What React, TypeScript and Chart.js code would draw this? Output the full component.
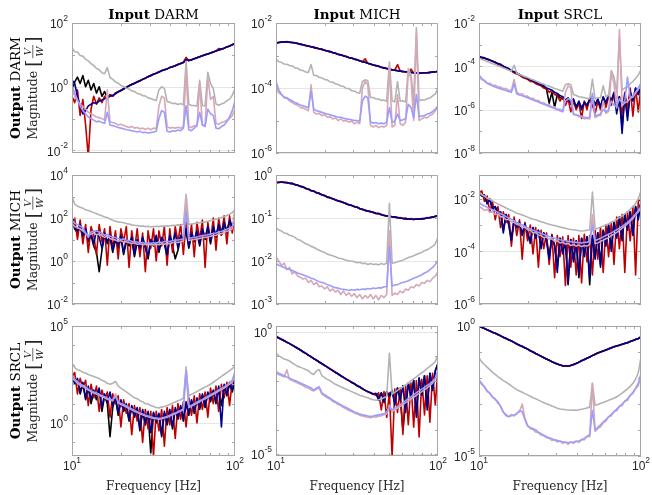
import React, { useEffect, useRef } from "react";
import { Chart, registerables } from "chart.js";

Chart.register(...registerables);

const CANVAS_W = 652;
const CANVAS_H = 495;

// Frequency grid (Hz), shared by all panels
const freqHz = [
  10.0, 10.39, 10.8, 11.22, 11.66, 12.12, 12.59, 13.09, 13.59, 14.13,
  14.68, 15.26, 15.85, 16.47, 17.11, 17.78, 18.48, 19.2, 19.95, 20.73,
  21.54, 22.39, 23.26, 24.17, 25.12, 26.1, 27.12, 28.18, 29.29, 30.43,
  31.62, 32.86, 34.15, 35.48, 36.87, 38.31, 39.81, 41.37, 42.99, 44.67,
  46.42, 48.23, 50.12, 52.08, 54.12, 56.23, 58.43, 60.72, 63.1, 65.56,
  68.13, 70.79, 73.56, 76.44, 79.43, 82.54, 85.77, 89.13, 92.62, 96.24,
  100.0,
];

// All magnitudes below are log10(|H|).
// ---------- Output DARM / Input DARM ----------
const dd_black = [
  -0.1, 0.15, 0.3, 0.1, 0.35, 0.0, 0.2, -0.1, 0.1, -0.2,
  0.0, -0.3, -0.15, -0.35, -0.25, -0.3, -0.2, -0.16, -0.12, -0.07,
  -0.02, 0.03, 0.07, 0.11, 0.15, 0.19, 0.23, 0.27, 0.31, 0.35,
  0.39, 0.42, 0.46, 0.5, 0.53, 0.56, 0.6, 0.63, 0.66, 0.7,
  0.73, 0.76, 0.85, 0.82, 0.85, 0.88, 0.91, 0.94, 0.97, 1.0,
  1.03, 1.06, 1.09, 1.12, 1.15, 1.18, 1.21, 1.25, 1.28, 1.32,
  1.36,
];
const dd_red = [
  -0.3, -0.5, -0.1, -0.9, -0.4, -1.2, -2.2, -0.7, -0.3, -0.55,
  -0.35, -0.5, -0.3, -0.4, -0.25, -0.3, -0.2, -0.15, -0.12, -0.05,
  -0.02, 0.02, 0.08, 0.1, 0.16, 0.18, 0.24, 0.26, 0.32, 0.34,
  0.4, 0.42, 0.46, 0.51, 0.53, 0.56, 0.6, 0.63, 0.66, 0.7,
  0.73, 0.77, 0.92, 0.82, 0.85, 0.88, 0.91, 0.94, 0.97, 1.0,
  1.03, 1.06, 1.09, 1.12, 1.2, 1.18, 1.21, 1.25, 1.28, 1.32,
  1.36,
];
const dd_blue = [
  0.2, 0.1, -0.3, -0.6, -0.85, -0.75, -0.6, -0.55, -0.5, -0.52,
  -0.45, -0.42, -0.38, -0.35, -0.3, -0.27, -0.22, -0.17, -0.12, -0.07,
  -0.02, 0.03, 0.07, 0.11, 0.15, 0.19, 0.23, 0.27, 0.31, 0.35,
  0.39, 0.42, 0.46, 0.5, 0.53, 0.56, 0.6, 0.63, 0.66, 0.7,
  0.73, 0.76, 0.85, 0.82, 0.85, 0.88, 0.91, 0.94, 0.97, 1.0,
  1.03, 1.06, 1.09, 1.12, 1.15, 1.18, 1.21, 1.25, 1.28, 1.32,
  1.36,
];
const dd_gray = [
  1.22, 1.1, 1.09, 0.98, 0.96, 0.86, 0.81, 0.72, 0.67, 0.57,
  0.53, 0.44, 0.41, 0.6, 0.29, 0.23, 0.15, 0.11, 0.04, 0.01,
  -0.05, -0.07, -0.13, -0.15, -0.21, -0.23, -0.28, -0.29, -0.35, -0.37,
  -0.41, -0.43, -0.1, 0.0, -0.05, -0.46, -0.49, -0.53, -0.52, -0.56,
  -0.53, -0.57, 0.8, -0.55, -0.59, -0.59, -0.61, 0.2, -0.59, -0.6,
  0.45, 0.1, -0.05, -0.54, -0.58, -0.54, -0.51, -0.44, -0.39, -0.27,
  -0.05,
];
const dd_pink = [
  -0.1, -0.3, -0.45, -0.55, -0.62, -0.7, -0.8, -0.85, -0.9, -0.95,
  -0.97, -1.0, -1.05, -0.1, -1.1, -1.12, -1.15, -1.2, -1.18, -1.22,
  -1.25, -1.28, -1.25, -1.3, -1.28, -1.32, -1.3, -1.34, -1.3, -1.35,
  -1.3, -1.32, -0.6, -0.3, -0.35, -1.25, -1.3, -1.28, -1.3, -1.27,
  -1.3, -1.25, 0.5, -1.25, -1.28, -1.22, -1.25, 0.1, -1.2, -1.2,
  0.3, -0.4, -0.3, -1.15, -1.18, -1.12, -1.1, -1.05, -1.0, -0.9,
  -0.72,
];
const dd_light = [
  0.05, -0.2, -0.4, -0.6, -0.75, -0.85, -0.95, -1.0, -1.05, -1.1,
  -1.08, -1.12, -1.15, -0.8, -1.2, -1.22, -1.25, -1.28, -1.3, -1.32,
  -1.35, -1.36, -1.38, -1.4, -1.42, -1.4, -1.44, -1.43, -1.45, -1.44,
  -1.42, -1.4, -1.0, -0.75, -0.8, -1.4, -1.42, -1.38, -1.4, -1.36,
  -1.38, -1.3, -0.6, -1.35, -1.38, -1.3, -1.2, -0.8, -1.2, -1.25,
  -0.7, -0.85, -0.9, -1.3, -1.32, -1.25, -1.2, -1.1, -0.95, -0.75,
  -0.45,
];

// ---------- Output DARM / Input MICH ----------
const dm_black = [
  -2.61, -2.6, -2.59, -2.58, -2.58, -2.59, -2.6, -2.61, -2.63, -2.65,
  -2.67, -2.69, -2.71, -2.73, -2.75, -2.77, -2.79, -2.81, -2.84, -2.86,
  -2.88, -2.91, -2.93, -2.96, -2.98, -3.01, -3.03, -3.06, -3.08, -3.11,
  -3.13, -3.16, -3.19, -3.21, -3.24, -3.26, -3.29, -3.31, -3.33, -3.36,
  -3.38, -3.4, -3.42, -3.44, -3.45, -3.47, -3.48, -3.49, -3.5, -3.51,
  -3.52, -3.53, -3.53, -3.54, -3.54, -3.53, -3.53, -3.52, -3.51, -3.5,
  -3.49,
];
const dm_red = [
  -2.63, -2.6, -2.58, -2.59, -2.57, -2.6, -2.6, -2.62, -2.63, -2.66,
  -2.67, -2.7, -2.71, -2.74, -2.75, -2.78, -2.79, -2.82, -2.84, -2.87,
  -2.88, -2.92, -2.93, -2.97, -2.98, -3.02, -3.03, -3.07, -3.08, -3.12,
  -3.13, -3.17, -3.19, -3.1, -3.24, -3.27, -3.29, -3.32, -3.33, -3.37,
  -3.38, -3.41, -3.42, -3.45, -3.45, -3.28, -3.48, -3.5, -3.5, -3.52,
  -3.42, -3.54, -3.53, -3.55, -3.54, -3.54, -3.53, -3.53, -3.51, -3.51,
  -3.48,
];
const dm_blue = [
  -2.62, -2.6, -2.59, -2.58, -2.58, -2.59, -2.6, -2.61, -2.63, -2.65,
  -2.67, -2.69, -2.71, -2.73, -2.75, -2.77, -2.79, -2.81, -2.84, -2.86,
  -2.88, -2.91, -2.93, -2.96, -2.98, -3.01, -3.03, -3.06, -3.08, -3.11,
  -3.13, -3.16, -3.19, -3.21, -3.24, -3.26, -3.29, -3.31, -3.33, -3.36,
  -3.38, -3.4, -3.42, -3.44, -3.45, -3.47, -3.48, -3.49, -3.5, -3.51,
  -3.52, -3.53, -3.53, -3.54, -3.54, -3.53, -3.53, -3.52, -3.51, -3.5,
  -3.49,
];
const dm_gray = [
  -3.12, -3.19, -3.21, -3.26, -3.27, -3.31, -3.32, -3.38, -3.39, -3.45,
  -3.46, -3.51, -3.52, -3.28, -3.61, -3.62, -3.67, -3.69, -3.74, -3.75,
  -3.81, -3.82, -3.87, -3.89, -3.94, -3.95, -4.01, -4.02, -4.08, -4.09,
  -4.14, -4.16, -3.8, -3.75, -3.78, -4.29, -4.29, -4.34, -4.34, -4.38,
  -4.37, -4.41, -3.2, -4.39, -4.43, -3.8, -4.41, -4.39, -4.43, -3.4,
  -3.6, -4.39, -2.15, -4.39, -4.36, -4.37, -4.33, -4.31, -4.24, -4.19,
  -4.0,
];
const dm_pink = [
  -4.0, -4.15, -4.2, -4.3, -4.32, -4.4, -4.45, -4.5, -4.52, -4.6,
  -4.62, -4.65, -4.7, -3.9, -4.75, -4.8, -4.78, -4.85, -4.82, -4.9,
  -4.88, -4.95, -4.92, -5.0, -4.95, -5.02, -5.0, -5.05, -5.02, -5.1,
  -5.05, -5.1, -4.0, -3.8, -3.9, -5.15, -5.2, -5.15, -5.22, -5.18,
  -5.2, -5.15, -3.3, -5.2, -5.15, -4.2, -5.1, -5.15, -5.05, -3.5,
  -3.7, -5.0, -2.3, -5.0, -4.95, -4.9, -4.92, -4.85, -4.8, -4.7,
  -4.6,
];
const dm_light = [
  -3.8, -4.05, -4.2, -4.28, -4.3, -4.35, -4.4, -4.45, -4.48, -4.52,
  -4.55, -4.58, -4.6, -4.1, -4.65, -4.7, -4.72, -4.75, -4.78, -4.8,
  -4.82, -4.85, -4.87, -4.9, -4.9, -4.93, -4.95, -4.96, -4.98, -5.0,
  -5.0, -5.02, -4.4, -4.25, -4.3, -5.05, -5.08, -5.06, -5.1, -5.08,
  -5.1, -5.05, -4.6, -5.05, -5.02, -4.8, -5.0, -4.98, -4.95, -4.5,
  -4.6, -4.92, -4.2, -4.88, -4.86, -4.85, -4.8, -4.78, -4.72, -4.65,
  -4.55,
];

// ---------- Output DARM / Input SRCL ----------
const ds_black = [
  -3.55, -3.6, -3.63, -3.67, -3.7, -3.77, -3.82, -3.87, -3.92, -4.0,
  -4.06, -4.12, -4.2, -4.26, -4.32, -4.38, -4.45, -4.52, -4.58, -4.63,
  -4.7, -4.75, -4.82, -4.88, -4.95, -5.05, -5.7, -5.2, -5.9, -5.3,
  -5.45, -5.5, -5.6, -5.55, -5.75, -5.6, -5.85, -5.65, -5.9, -5.7,
  -5.8, -5.55, -5.5, -5.75, -5.55, -5.85, -5.45, -5.7, -5.35, -5.6,
  -5.25, -6.0, -5.4, -6.8, -5.3, -6.3, -5.2, -5.5, -5.05, -5.3,
  -4.8,
];
const ds_red = [
  -3.52, -3.6, -3.6, -3.68, -3.7, -3.78, -3.8, -3.9, -3.95, -4.0,
  -4.1, -4.15, -4.22, -4.3, -4.35, -4.4, -4.5, -4.55, -4.6, -4.7,
  -4.7, -4.8, -4.85, -4.9, -5.0, -5.05, -5.2, -5.1, -5.3, -5.35,
  -5.6, -5.4, -5.8, -5.5, -6.1, -5.6, -6.0, -5.7, -6.4, -5.6,
  -6.0, -5.5, -5.8, -6.2, -5.6, -6.0, -5.5, -5.9, -5.4, -5.8,
  -5.3, -5.9, -5.5, -6.2, -5.2, -6.0, -5.0, -6.3, -5.0, -6.1,
  -4.9,
];
const ds_blue = [
  -3.55, -3.58, -3.62, -3.66, -3.72, -3.75, -3.82, -3.88, -3.9, -4.0,
  -4.05, -4.1, -4.2, -4.25, -4.3, -4.38, -4.45, -4.5, -4.55, -4.62,
  -4.68, -4.72, -4.8, -4.85, -4.9, -5.0, -5.05, -5.1, -5.2, -5.25,
  -5.35, -5.4, -5.55, -5.45, -5.7, -5.5, -5.9, -5.6, -6.0, -5.65,
  -5.8, -5.5, -5.4, -5.8, -5.5, -5.9, -5.4, -5.7, -5.3, -5.6,
  -5.2, -6.2, -5.4, -7.1, -5.3, -6.5, -5.2, -5.6, -5.0, -5.3,
  -4.75,
];
const ds_gray = [
  -3.62, -3.68, -3.72, -3.78, -3.82, -3.88, -3.92, -3.98, -4.02, -4.08,
  -4.12, -4.18, -4.22, -3.95, -4.32, -4.38, -4.42, -4.48, -4.52, -4.58,
  -4.62, -4.68, -4.72, -4.78, -4.82, -4.88, -4.92, -4.97, -5.02, -5.06,
  -5.1, -5.15, -4.85, -4.8, -4.85, -5.3, -5.35, -5.4, -5.42, -5.45,
  -5.48, -5.5, -4.6, -5.5, -5.45, -5.45, -4.9, -5.4, -5.35, -4.2,
  -4.5, -5.2, -2.7, -5.1, -5.0, -4.95, -4.8, -4.7, -4.55, -4.4,
  -4.15,
];
const ds_pink = [
  -4.45, -4.62, -4.63, -4.78, -4.78, -4.88, -4.87, -4.95, -4.96, -5.03,
  -5.02, -5.11, -5.1, -4.6, -5.18, -5.28, -5.27, -5.38, -5.37, -5.48,
  -5.47, -5.58, -5.57, -5.68, -5.67, -5.78, -5.77, -5.88, -5.87, -5.98,
  -5.97, -6.08, -5.2, -4.9, -5.0, -6.23, -6.22, -6.33, -6.32, -6.43,
  -6.4, -6.43, -5.3, -6.37, -6.28, -6.27, -5.6, -6.17, -6.08, -4.3,
  -4.8, -5.92, -2.3, -5.82, -5.68, -5.62, -5.48, -5.42, -5.23, -5.07,
  -4.78,
];
const ds_light = [
  -4.4, -4.55, -4.68, -4.78, -4.85, -4.9, -4.95, -5.0, -5.04, -5.08,
  -5.12, -5.16, -5.2, -4.8, -5.28, -5.32, -5.36, -5.4, -5.45, -5.5,
  -5.55, -5.6, -5.65, -5.7, -5.75, -5.8, -5.85, -5.9, -5.95, -6.0,
  -6.05, -6.1, -5.6, -5.5, -5.55, -6.2, -6.25, -6.28, -6.3, -6.35,
  -6.38, -6.35, -5.25, -6.3, -6.25, -6.2, -6.0, -6.1, -6.0, -5.6,
  -5.8, -5.85, -5.5, -5.7, -5.6, -4.5, -5.45, -5.35, -5.2, -5.0,
  -4.8,
];

// ---------- Output MICH / Input DARM ----------
const md_black = [
  1.9, 1.5, 1.3, 1.6, 1.1, 1.4, 0.9, 1.2, 0.7, 0.4,
  -0.5, 0.5, 1.2, 0.8, 1.1, 0.4, 1.0, 0.6, 1.1, 0.3,
  0.9, 0.7, 1.0, 0.2, 0.9, 0.5, 1.0, 0.6, 0.1, 0.9,
  0.7, 1.1, 0.4, 1.0, 0.8, 0.2, 1.1, 0.7, 0.1, 0.5,
  1.1, 0.9, 1.4, 0.6, 1.2, 0.9, 1.3, 0.7, 1.4, 1.0,
  1.5, 0.8, 1.5, 1.1, 1.6, 1.2, 1.7, 1.3, 1.8, 1.5,
  1.9,
];
const md_red = [
  1.8, 2.0, 1.0, 1.9, 0.8, 1.7, 0.4, 1.6, 1.2, 0.3,
  1.7, 0.9, 1.5, -0.2, 1.6, 0.6, 1.4, 0.1, 1.5, 0.9,
  1.6, -0.3, 1.4, 0.5, 1.5, 0.2, 1.3, -0.5, 1.4, 0.6,
  1.5, 0.0, 1.4, 0.7, 1.6, -0.2, 1.5, 0.4, 1.6, 0.9,
  1.7, 0.3, 1.8, 0.8, 1.7, 0.2, 1.8, 1.0, 1.9, -0.3,
  1.8, 0.9, 2.0, 0.5, 2.0, 1.2, 2.1, 0.8, 2.1, 1.3,
  2.2,
];
const md_blue = [
  2.0, 1.6, 1.4, 1.7, 1.2, 1.5, 1.0, 1.3, 0.8, 1.4,
  1.1, 0.6, 1.3, 0.9, 1.2, 0.5, 1.1, 0.7, 1.2, 0.4,
  1.0, 0.8, 1.1, 0.3, 1.0, 0.6, 1.1, 0.7, 0.2, 1.0,
  0.8, 1.2, 0.5, 1.1, 0.9, 0.3, 1.2, 0.8, 1.3, 0.6,
  1.2, 1.0, 1.5, 0.7, 1.3, 1.0, 1.4, 0.8, 1.5, 1.1,
  1.6, 0.9, 1.6, 1.2, 1.7, 1.3, 1.8, 1.4, 1.9, 1.6,
  2.0,
];
const md_gray = [
  3.0, 2.65, 2.55, 2.5, 2.45, 2.38, 2.35, 2.3, 2.25, 2.2,
  2.15, 2.1, 2.05, 2.02, 1.95, 1.9, 1.85, 1.82, 1.8, 1.78,
  1.74, 1.72, 1.68, 1.66, 1.65, 1.62, 1.63, 1.6, 1.62, 1.58,
  1.6, 1.62, 1.6, 1.63, 1.62, 1.64, 1.63, 1.66, 1.65, 1.68,
  1.66, 1.7, 3.1, 1.7, 1.72, 1.74, 1.76, 1.78, 1.8, 1.82,
  1.85, 1.88, 1.9, 1.95, 1.98, 2.02, 2.06, 2.12, 2.18, 2.25,
  2.4,
];
const md_pink = [
  1.75, 1.6, 1.55, 1.5, 1.4, 1.3, 1.2, 1.25, 1.3, 1.22,
  1.25, 1.18, 1.1, 1.15, 1.05, 1.0, 0.98, 0.92, 0.95, 0.88,
  0.9, 0.85, 0.82, 0.85, 0.78, 0.8, 0.76, 0.78, 0.74, 0.77,
  0.75, 0.78, 0.76, 0.8, 0.78, 0.82, 0.8, 0.85, 0.88, 0.86,
  0.9, 0.92, 2.9, 0.95, 0.98, 1.0, 1.02, 1.05, 1.08, 1.1,
  1.12, 1.15, 1.18, 1.2, 1.25, 1.28, 1.32, 1.38, 1.42, 1.5,
  2.5,
];
const md_light = [
  1.9, 1.75, 1.7, 1.62, 1.55, 1.3, 1.1, 1.35, 1.4, 1.38,
  1.35, 1.3, 1.2, 1.25, 1.15, 1.12, 1.08, 1.05, 1.0, 1.02,
  0.98, 0.95, 0.92, 0.9, 0.88, 0.85, 0.86, 0.82, 0.84, 0.82,
  0.85, 0.84, 0.88, 0.86, 0.9, 0.92, 0.9, 0.95, 0.97, 0.98,
  1.0, 1.02, 2.3, 1.05, 1.08, 1.1, 1.12, 1.15, 1.18, 1.2,
  1.22, 1.25, 1.28, 1.3, 1.35, 1.38, 1.42, 1.48, 1.52, 1.6,
  1.75,
];

// ---------- Output MICH / Input MICH ----------
const mm_black = [
  -0.18, -0.17, -0.17, -0.17, -0.18, -0.19, -0.2, -0.22, -0.24, -0.26,
  -0.28, -0.31, -0.33, -0.36, -0.38, -0.41, -0.43, -0.46, -0.48, -0.51,
  -0.53, -0.55, -0.58, -0.6, -0.62, -0.64, -0.67, -0.69, -0.71, -0.73,
  -0.75, -0.78, -0.8, -0.82, -0.84, -0.85, -0.87, -0.89, -0.9, -0.92,
  -0.94, -0.95, -0.96, -0.97, -0.98, -0.99, -1.0, -1.01, -1.02, -1.02,
  -1.03, -1.03, -1.03, -1.02, -1.02, -1.01, -1.0, -0.99, -0.98, -0.96,
  -0.95,
];
const mm_red = [
  -0.17, -0.18, -0.16, -0.18, -0.17, -0.2, -0.19, -0.23, -0.23, -0.27,
  -0.27, -0.32, -0.32, -0.37, -0.37, -0.42, -0.42, -0.47, -0.47, -0.52,
  -0.52, -0.56, -0.57, -0.61, -0.61, -0.65, -0.66, -0.7, -0.7, -0.74,
  -0.74, -0.79, -0.79, -0.83, -0.83, -0.86, -0.86, -0.9, -0.89, -0.93,
  -0.93, -0.96, -0.95, -0.98, -0.97, -1.0, -0.99, -1.01, -1.0, -1.03,
  -1.01, -1.04, -1.02, -1.03, -1.01, -1.02, -0.99, -1.0, -0.97, -0.97,
  -0.94,
];
const mm_blue = [
  -0.18, -0.17, -0.17, -0.17, -0.18, -0.19, -0.2, -0.22, -0.24, -0.26,
  -0.28, -0.31, -0.33, -0.36, -0.38, -0.41, -0.43, -0.46, -0.48, -0.51,
  -0.53, -0.55, -0.58, -0.6, -0.62, -0.64, -0.67, -0.69, -0.71, -0.73,
  -0.75, -0.78, -0.8, -0.82, -0.84, -0.85, -0.87, -0.89, -0.9, -0.92,
  -0.94, -0.95, -0.96, -0.97, -0.98, -0.99, -1.0, -1.01, -1.02, -1.02,
  -1.03, -1.03, -1.03, -1.02, -1.02, -1.01, -1.0, -0.99, -0.98, -0.96,
  -0.95,
];
const mm_gray = [
  -1.22, -1.28, -1.3, -1.35, -1.36, -1.4, -1.42, -1.45, -1.5, -1.52,
  -1.56, -1.6, -1.62, -1.66, -1.68, -1.72, -1.75, -1.78, -1.8, -1.84,
  -1.86, -1.88, -1.9, -1.93, -1.94, -1.96, -1.98, -2.0, -2.0, -2.02,
  -2.04, -2.03, -2.06, -2.05, -2.08, -2.06, -2.08, -2.07, -2.09, -2.06,
  -2.08, -2.05, -0.66, -2.05, -2.04, -2.02, -2.0, -1.98, -1.95, -1.92,
  -1.9, -1.88, -1.85, -1.82, -1.8, -1.76, -1.74, -1.7, -1.66, -1.6,
  -1.45,
];
const mm_pink = [
  -1.9, -2.0, -2.1, -2.05, -2.2, -2.15, -2.3, -2.25, -2.35, -2.38,
  -2.42, -2.4, -2.5, -2.45, -2.55, -2.5, -2.6, -2.58, -2.65, -2.6,
  -2.7, -2.65, -2.72, -2.68, -2.78, -2.7, -2.8, -2.74, -2.82, -2.76,
  -2.85, -2.78, -2.88, -2.8, -2.86, -2.78, -2.88, -2.8, -2.9, -2.8,
  -2.85, -2.78, -1.3, -2.8, -2.75, -2.78, -2.7, -2.74, -2.65, -2.68,
  -2.6, -2.62, -2.55, -2.58, -2.5, -2.52, -2.45, -2.48, -2.4, -2.35,
  -2.25,
];
const mm_light = [
  -2.05, -2.1, -2.12, -2.15, -2.18, -2.2, -2.22, -2.25, -2.28, -2.3,
  -2.32, -2.35, -2.37, -2.4, -2.42, -2.45, -2.48, -2.5, -2.52, -2.55,
  -2.57, -2.6, -2.62, -2.63, -2.65, -2.66, -2.67, -2.68, -2.67, -2.68,
  -2.66, -2.67, -2.65, -2.66, -2.64, -2.65, -2.63, -2.64, -2.62, -2.63,
  -2.6, -2.6, -1.67, -2.58, -2.56, -2.55, -2.52, -2.5, -2.48, -2.46,
  -2.43, -2.4, -2.38, -2.35, -2.32, -2.28, -2.25, -2.2, -2.15, -2.08,
  -1.98,
];

// ---------- Output MICH / Input SRCL ----------
const ms_black = [
  -1.75, -1.88, -1.9, -2.15, -2.05, -2.35, -2.3, -2.55, -2.5, -3.2,
  -2.6, -2.95, -3.5, -2.8, -3.05, -2.9, -3.35, -2.95, -3.3, -3.6,
  -3.1, -3.45, -3.2, -3.8, -3.3, -3.55, -4.2, -3.4, -3.75, -4.6,
  -3.5, -4.0, -3.6, -5.27, -3.55, -4.3, -3.6, -5.0, -3.5, -4.1,
  -3.45, -5.27, -3.4, -4.2, -3.3, -4.5, -3.2, -3.7, -3.0, -3.9,
  -2.9, -3.4, -2.7, -3.5, -2.6, -3.1, -2.5, -3.3, -2.3, -2.7,
  -2.1,
];
const ms_red = [
  -1.8, -1.7, -2.1, -1.9, -2.5, -2.1, -2.8, -2.3, -3.1, -2.5,
  -2.9, -2.6, -3.8, -2.7, -3.4, -2.8, -4.3, -2.9, -3.6, -3.0,
  -4.1, -3.1, -4.6, -3.2, -3.9, -3.3, -4.5, -3.35, -5.0, -3.4,
  -4.2, -3.45, -5.3, -3.4, -4.6, -3.5, -4.9, -3.4, -5.2, -3.35,
  -4.4, -3.4, -4.9, -3.2, -4.3, -3.1, -4.8, -3.0, -4.2, -2.9,
  -4.5, -2.7, -3.9, -2.6, -4.8, -2.5, -3.6, -2.3, -4.9, -2.1,
  -2.0,
];
const ms_blue = [
  -1.75, -1.9, -1.85, -2.2, -2.0, -2.4, -2.3, -2.6, -2.5, -3.3,
  -2.6, -3.0, -3.6, -2.8, -3.1, -2.9, -3.4, -2.95, -3.3, -3.7,
  -3.1, -3.5, -3.2, -3.9, -3.3, -3.6, -4.3, -3.4, -3.8, -4.8,
  -3.5, -4.1, -3.6, -5.2, -3.55, -4.4, -3.6, -4.9, -3.5, -4.2,
  -3.45, -5.0, -3.4, -4.3, -3.3, -4.6, -3.2, -3.8, -3.0, -4.0,
  -2.9, -3.5, -2.7, -3.6, -2.6, -3.2, -2.5, -3.4, -2.3, -2.8,
  -2.1,
];
const ms_gray = [
  -1.75, -1.85, -1.9, -1.98, -2.02, -2.08, -2.15, -2.2, -2.25, -2.3,
  -2.35, -2.4, -2.45, -2.5, -2.55, -2.58, -2.62, -2.66, -2.7, -2.74,
  -2.78, -2.8, -2.84, -2.88, -2.9, -2.94, -2.97, -3.0, -3.02, -3.05,
  -3.08, -3.1, -3.12, -3.15, -3.17, -3.18, -3.2, -3.22, -3.23, -3.22,
  -3.2, -3.18, -1.75, -3.15, -3.12, -3.08, -3.04, -3.0, -2.95, -2.9,
  -2.85, -2.78, -2.72, -2.65, -2.58, -2.5, -2.4, -2.3, -2.18, -2.0,
  -1.7,
];
const ms_pink = [
  -2.3, -2.35, -2.45, -2.4, -2.52, -2.5, -2.6, -2.58, -2.68, -2.7,
  -2.8, -2.78, -2.88, -2.9, -2.98, -3.0, -3.1, -3.08, -3.18, -3.2,
  -3.3, -3.28, -3.38, -3.4, -3.48, -3.45, -3.55, -3.52, -3.62, -3.6,
  -3.68, -3.65, -3.72, -3.7, -3.78, -3.74, -3.8, -3.76, -3.82, -3.78,
  -3.8, -3.74, -2.6, -3.7, -3.68, -3.62, -3.58, -3.52, -3.48, -3.4,
  -3.35, -3.28, -3.2, -3.12, -3.05, -2.95, -2.85, -2.75, -2.6, -2.5,
  -2.35,
];
const ms_light = [
  -2.15, -2.22, -2.28, -2.32, -2.38, -2.42, -2.47, -2.52, -2.57, -2.62,
  -2.68, -2.73, -2.78, -2.84, -2.9, -2.95, -3.0, -3.05, -3.1, -3.15,
  -3.2, -3.24, -3.28, -3.32, -3.36, -3.4, -3.44, -3.47, -3.5, -3.53,
  -3.56, -3.58, -3.6, -3.62, -3.63, -3.65, -3.66, -3.67, -3.68, -3.66,
  -3.65, -3.62, -3.0, -3.6, -3.55, -3.5, -3.45, -3.4, -3.35, -3.3,
  -3.24, -3.18, -3.12, -3.05, -2.98, -2.9, -2.8, -2.7, -2.58, -2.45,
  -2.3,
];

// ---------- Output SRCL / Input DARM ----------
const sd_black = [
  2.4, 2.1, 2.2, 1.5, 2.0, 1.2, 1.8, 1.0, 1.6, 1.2,
  1.7, 0.6, 1.4, 1.0, -0.7, 0.8, 1.3, 0.4, 1.1, 0.6,
  0.9, 0.1, 0.8, 0.3, 0.7, -0.4, 0.6, -0.1, 0.5, -1.56,
  0.5, 0.0, 0.45, -0.7, 0.5, -0.1, 0.6, -0.3, 0.7, 0.2,
  0.8, 0.1, 1.0, 0.4, 1.1, 0.5, 1.2, 0.7, 1.4, 0.8,
  1.5, 1.1, 1.6, 1.0, 1.8, 0.9, 1.9, 1.4, 2.0, 1.6,
  2.2,
];
const sd_red = [
  2.4, 2.6, 1.5, 2.3, 1.8, 2.2, 0.9, 2.0, 1.3, 1.9,
  0.6, 1.7, 1.2, 1.6, 0.3, 1.5, 1.0, 1.4, -0.2, 1.2,
  0.5, 1.0, -0.6, 0.9, 0.1, 0.8, -1.0, 0.7, -0.3, 0.6,
  -1.7, 0.6, -0.4, 0.7, -1.2, 0.8, -0.1, 0.9, -0.8, 1.0,
  0.2, 1.1, -0.2, 1.3, 0.4, 1.4, 0.0, 1.5, 0.7, 1.6,
  0.3, 1.8, 1.0, 1.9, 0.6, 2.0, 1.3, 2.1, 0.9, 2.2,
  2.0,
];
const sd_blue = [
  2.5, 2.0, 2.3, 1.6, 2.1, 1.3, 1.9, 1.2, 1.7, 1.4,
  1.8, 0.8, 1.5, 1.1, 1.6, 0.9, 1.4, 0.5, 1.2, 0.7,
  1.0, 0.2, 0.9, 0.4, 0.8, -0.3, 0.7, 0.0, 0.6, -0.5,
  0.55, 0.1, 0.5, -0.6, 0.6, 0.0, 0.7, -0.2, 0.8, 0.3,
  0.9, 0.2, 1.1, 0.5, 1.2, 0.6, 1.3, 0.8, 1.5, 0.9,
  1.6, 1.2, 1.7, 1.1, 1.9, -0.2, 2.0, 1.5, 2.1, 1.7,
  2.3,
];
const sd_gray = [
  3.1, 2.85, 2.75, 2.7, 2.62, 2.58, 2.5, 2.45, 2.4, 2.35,
  2.3, 2.2, 2.15, 2.05, 2.0, 2.05, 2.15, 1.9, 1.8, 1.7,
  1.6, 1.5, 1.4, 1.3, 1.25, 1.15, 1.1, 1.0, 0.98, 0.9,
  0.85, 0.8, 0.78, 0.82, 0.85, 0.9, 0.95, 1.02, 1.08, 1.15,
  1.2, 1.28, 2.75, 1.4, 1.48, 1.55, 1.62, 1.7, 1.78, 1.85,
  1.92, 2.0, 2.1, 2.2, 2.3, 2.4, 2.5, 2.6, 2.7, 2.8,
  2.95,
];
const sd_pink = [
  2.3, 2.2, 2.05, 1.95, 1.88, 1.8, 1.7, 1.62, 1.55, 1.5,
  1.42, 1.36, 1.3, 1.22, 1.18, 1.15, 1.5, 1.05, 0.95, 0.9,
  0.82, 0.75, 0.68, 0.6, 0.55, 0.48, 0.42, 0.36, 0.32, 0.28,
  0.24, 0.22, 0.2, 0.22, 0.26, 0.3, 0.36, 0.42, 0.48, 0.55,
  0.62, 0.68, 2.9, 0.8, 0.88, 0.95, 1.02, 1.1, 1.18, 1.25,
  1.32, 1.4, 1.48, 1.56, 1.65, 1.72, 1.8, 1.9, 2.0, 2.1,
  2.7,
];
const sd_light = [
  2.4, 2.25, 2.15, 2.0, 1.95, 1.85, 1.75, 1.65, 1.6, 1.55,
  1.48, 1.4, 1.35, 1.28, 1.22, 1.2, 1.35, 1.1, 1.0, 0.95,
  0.88, 0.8, 0.72, 0.65, 0.58, 0.52, 0.46, 0.4, 0.36, 0.32,
  0.28, 0.26, 0.24, 0.26, 0.3, 0.34, 0.4, 0.46, 0.52, 0.58,
  0.65, 0.72, 2.7, 0.85, 0.92, 1.0, 1.08, 1.15, 1.22, 1.3,
  1.38, 1.46, 1.54, 1.62, 1.7, 1.78, 1.86, 1.95, 2.05, 2.2,
  2.6,
];

// ---------- Output SRCL / Input MICH ----------
const sm_black = [
  -0.2, -0.26, -0.31, -0.37, -0.43, -0.49, -0.55, -0.62, -0.68, -0.75,
  -0.82, -0.89, -0.96, -1.03, -1.1, -1.17, -1.24, -1.31, -1.38, -1.45,
  -1.52, -1.59, -1.66, -1.73, -1.8, -1.87, -1.94, -2.0, -2.07, -2.13,
  -2.2, -2.26, -2.33, -2.4, -2.45, -2.5, -2.55, -2.55, -2.7, -2.5,
  -2.8, -2.45, -2.7, -2.4, -2.9, -2.3, -2.7, -4.0, -2.9, -2.1,
  -2.6, -2.0, -3.3, -1.9, -2.5, -1.8, -3.0, -1.7, -2.3, -1.6,
  -1.3,
];
const sm_red = [
  -0.18, -0.25, -0.32, -0.36, -0.44, -0.48, -0.56, -0.61, -0.69, -0.74,
  -0.83, -0.88, -0.97, -1.02, -1.11, -1.16, -1.25, -1.3, -1.39, -1.44,
  -1.53, -1.58, -1.67, -1.72, -1.81, -1.86, -1.95, -1.99, -2.08, -2.12,
  -2.21, -2.25, -2.34, -2.39, -2.46, -2.5, -2.56, -2.6, -2.5, -3.2,
  -2.45, -3.5, -2.5, -5.1, -2.35, -3.3, -2.3, -4.2, -2.2, -3.8,
  -2.1, -3.9, -2.0, -4.3, -1.95, -3.4, -1.8, -3.7, -1.7, -3.0,
  -1.4,
];
const sm_blue = [
  -0.2, -0.26, -0.31, -0.37, -0.43, -0.49, -0.55, -0.62, -0.68, -0.75,
  -0.82, -0.89, -0.96, -1.03, -1.1, -1.17, -1.24, -1.31, -1.38, -1.45,
  -1.52, -1.59, -1.66, -1.73, -1.8, -1.87, -1.94, -2.0, -2.07, -2.13,
  -2.2, -2.26, -2.33, -2.4, -2.45, -2.5, -2.55, -2.52, -2.8, -2.5,
  -2.9, -2.45, -2.6, -2.4, -3.0, -2.3, -2.8, -2.2, -3.3, -2.1,
  -2.7, -2.0, -3.5, -1.9, -2.6, -1.8, -3.2, -1.7, -2.4, -1.6,
  -1.3,
];
const sm_gray = [
  -0.88, -0.98, -1.05, -1.12, -1.15, -1.2, -1.28, -1.35, -1.42, -1.45,
  -1.5, -1.55, -1.6, -1.7, -1.75, -1.6, -1.55, -1.8, -1.88, -1.95,
  -2.0, -2.08, -2.15, -2.2, -2.25, -2.3, -2.35, -2.4, -2.45, -2.5,
  -2.55, -2.6, -2.63, -2.67, -2.7, -2.75, -2.78, -2.8, -2.78, -2.75,
  -2.7, -2.65, -0.88, -2.55, -2.48, -2.4, -2.32, -2.25, -2.18, -2.1,
  -2.0, -1.92, -1.85, -1.76, -1.68, -1.6, -1.5, -1.42, -1.33, -1.22,
  -0.95,
];
const sm_pink = [
  -1.7, -1.75, -1.8, -1.85, -1.56, -1.95, -2.0, -2.05, -2.1, -2.15,
  -2.2, -2.28, -2.3, -2.38, -2.42, -2.35, -2.3, -2.55, -2.62, -2.7,
  -2.75, -2.85, -2.9, -2.98, -3.02, -3.1, -3.15, -3.22, -3.26, -3.32,
  -3.36, -3.42, -3.44, -3.48, -3.5, -3.52, -3.48, -3.5, -3.45, -3.44,
  -3.4, -3.36, -3.0, -3.28, -3.2, -3.12, -3.05, -2.98, -2.9, -2.84,
  -2.75, -2.68, -2.6, -2.52, -2.45, -2.38, -2.3, -2.2, -2.1, -1.95,
  -1.65,
];
const sm_light = [
  -1.62, -1.7, -1.75, -1.8, -1.85, -1.9, -1.95, -2.0, -2.05, -2.1,
  -2.15, -2.2, -2.25, -2.3, -2.4, -2.3, -2.25, -2.5, -2.58, -2.65,
  -2.72, -2.8, -2.86, -2.92, -2.98, -3.05, -3.1, -3.16, -3.22, -3.28,
  -3.32, -3.36, -3.4, -3.42, -3.45, -3.46, -3.45, -3.42, -3.4, -3.38,
  -3.35, -3.3, -3.05, -3.2, -3.12, -3.05, -2.98, -2.9, -2.82, -2.74,
  -2.66, -2.58, -2.5, -2.42, -2.35, -2.28, -2.2, -2.12, -2.02, -1.9,
  -1.6,
];

// ---------- Output SRCL / Input SRCL ----------
const ss_black = [
  0.0, -0.05, -0.1, -0.14, -0.19, -0.24, -0.28, -0.33, -0.38, -0.43,
  -0.48, -0.53, -0.58, -0.63, -0.69, -0.74, -0.79, -0.84, -0.89, -0.95,
  -1.0, -1.06, -1.11, -1.16, -1.22, -1.27, -1.32, -1.37, -1.42, -1.46,
  -1.5, -1.53, -1.54, -1.54, -1.52, -1.48, -1.44, -1.39, -1.34, -1.29,
  -1.24, -1.19, -1.14, -1.09, -1.04, -1.0, -0.96, -0.92, -0.88, -0.84,
  -0.8, -0.77, -0.74, -0.7, -0.67, -0.64, -0.6, -0.56, -0.52, -0.48,
  -0.42,
];
const ss_red = [
  0.01, -0.06, -0.09, -0.15, -0.18, -0.25, -0.27, -0.34, -0.37, -0.44,
  -0.47, -0.54, -0.57, -0.64, -0.68, -0.75, -0.78, -0.85, -0.88, -0.96,
  -0.99, -1.07, -1.1, -1.17, -1.21, -1.28, -1.31, -1.38, -1.41, -1.47,
  -1.49, -1.54, -1.53, -1.55, -1.51, -1.49, -1.43, -1.4, -1.33, -1.3,
  -1.23, -1.2, -1.13, -1.1, -1.03, -1.01, -0.95, -0.93, -0.87, -0.85,
  -0.79, -0.78, -0.73, -0.71, -0.66, -0.65, -0.59, -0.57, -0.51, -0.49,
  -0.41,
];
const ss_blue = [
  0.0, -0.05, -0.1, -0.14, -0.19, -0.24, -0.28, -0.33, -0.38, -0.43,
  -0.48, -0.53, -0.58, -0.63, -0.69, -0.74, -0.79, -0.84, -0.89, -0.95,
  -1.0, -1.06, -1.11, -1.16, -1.22, -1.27, -1.32, -1.37, -1.42, -1.46,
  -1.5, -1.53, -1.54, -1.54, -1.52, -1.48, -1.44, -1.39, -1.34, -1.29,
  -1.24, -1.19, -1.14, -1.09, -1.04, -1.0, -0.96, -0.92, -0.88, -0.84,
  -0.8, -0.77, -0.74, -0.7, -0.67, -0.64, -0.6, -0.56, -0.52, -0.48,
  -0.42,
];
const ss_gray = [
  -1.22, -1.38, -1.48, -1.58, -1.68, -1.78, -1.86, -1.95, -2.02, -2.1,
  -2.16, -2.23, -2.3, -2.38, -2.45, -2.5, -2.55, -2.6, -2.65, -2.7,
  -2.76, -2.8, -2.85, -2.9, -2.95, -2.99, -3.03, -3.08, -3.12, -3.16,
  -3.19, -3.2, -3.22, -3.23, -3.24, -3.23, -3.24, -3.22, -3.2, -3.18,
  -3.15, -3.12, -2.2, -3.05, -3.02, -2.98, -2.94, -2.9, -2.86, -2.82,
  -2.78, -2.72, -2.66, -2.58, -2.5, -2.42, -2.32, -2.2, -2.05, -1.8,
  -1.2,
];
const ss_pink = [
  -2.12, -2.25, -2.32, -2.52, -2.58, -2.75, -2.8, -2.97, -3.08, -3.32,
  -3.4, -3.5, -3.4, -3.46, -3.35, -3.3, -3.0, -3.55, -3.82, -3.95,
  -3.98, -4.08, -4.1, -4.2, -4.22, -4.3, -4.32, -4.4, -4.38, -4.46,
  -4.42, -4.52, -4.46, -4.55, -4.46, -4.52, -4.42, -4.48, -4.36, -4.38,
  -4.24, -4.26, -2.2, -4.05, -3.95, -3.88, -3.72, -3.66, -3.48, -3.46,
  -3.28, -3.26, -3.08, -3.06, -2.88, -2.86, -2.66, -2.6, -2.4, -2.3,
  -1.85,
];
const ss_light = [
  -2.08, -2.2, -2.35, -2.48, -2.6, -2.72, -2.82, -2.92, -3.1, -3.3,
  -3.45, -3.48, -3.45, -3.42, -3.38, -3.25, -3.3, -3.6, -3.85, -3.9,
  -3.95, -4.0, -4.08, -4.14, -4.2, -4.26, -4.3, -4.34, -4.38, -4.4,
  -4.43, -4.45, -4.47, -4.48, -4.47, -4.46, -4.44, -4.42, -4.38, -4.32,
  -4.25, -4.18, -3.25, -4.0, -3.9, -3.8, -3.7, -3.6, -3.5, -3.4,
  -3.3, -3.2, -3.1, -3.0, -2.9, -2.8, -2.68, -2.55, -2.4, -2.2,
  -1.85,
];

// ---------- axes: limits and ticks (log10 exponents) ----------
const inputNames = ["DARM", "MICH", "SRCL"];
const outputNames = ["DARM", "MICH", "SRCL"];
const yRangeExp = [
  [-2.08, 2], [-6, -2], [-8, -2],
  [-2, 4], [-3, 0], [-6, -1.1],
  [-1.7, 5], [-5.08, 0.23], [-5, 0],
];
const yTickExp = [
  [2, 0, -2], [-2, -4, -6], [-2, -4, -6, -8],
  [4, 2, 0, -2], [0, -1, -2, -3], [-2, -4, -6],
  [5, 0], [0, -5], [0, -5],
];
const xTickExp = [1, 2];
const xMinorHz = [20, 30, 40, 50, 60, 70, 80, 90];

// series order: measured, red, blue, gray, pink, light blue
const panelSeries = [
  [dd_black, dd_red, dd_blue, dd_gray, dd_pink, dd_light],
  [dm_black, dm_red, dm_blue, dm_gray, dm_pink, dm_light],
  [ds_black, ds_red, ds_blue, ds_gray, ds_pink, ds_light],
  [md_black, md_red, md_blue, md_gray, md_pink, md_light],
  [mm_black, mm_red, mm_blue, mm_gray, mm_pink, mm_light],
  [ms_black, ms_red, ms_blue, ms_gray, ms_pink, ms_light],
  [sd_black, sd_red, sd_blue, sd_gray, sd_pink, sd_light],
  [sm_black, sm_red, sm_blue, sm_gray, sm_pink, sm_light],
  [ss_black, ss_red, ss_blue, ss_gray, ss_pink, ss_light],
];

// ---------- layout & style ----------
const colEdges = [[72, 235], [276, 438], [479, 641]];
const rowEdges = [[23, 153], [175, 304], [326, 456]];
const seriesColors = ["#000000", "#c00000", "#00008c", "#b3b3b3", "#d6a7b7", "#9c9cff"];
const seriesWidths = [1.6, 1.6, 1.6, 1.6, 1.6, 1.6];
const SERIF = '"DejaVu Serif", serif';
const SANS = '"Liberation Sans", Arial, sans-serif';

type Part = { t?: string; f: string; num?: string; den?: string; dy?: number };

function partWidth(ctx: CanvasRenderingContext2D, p: Part) {
  ctx.font = p.f;
  if (p.num !== undefined) {
    return Math.max(ctx.measureText(p.num).width, ctx.measureText(p.den || "").width) + 6;
  }
  return ctx.measureText(p.t || "").width;
}

function drawParts(
  ctx: CanvasRenderingContext2D,
  parts: Part[],
  cx: number,
  cy: number,
  rotate: boolean,
  color: string
) {
  ctx.save();
  ctx.translate(cx, cy);
  if (rotate) ctx.rotate(-Math.PI / 2);
  ctx.fillStyle = color;
  ctx.strokeStyle = color;
  ctx.textBaseline = "alphabetic";
  ctx.textAlign = "left";
  const widths = parts.map((p) => partWidth(ctx, p));
  const total = widths.reduce((a, b) => a + b, 0);
  let x = -total / 2;
  parts.forEach((p, i) => {
    ctx.font = p.f;
    if (p.num !== undefined) {
      const w = widths[i];
      const nw = ctx.measureText(p.num).width;
      const dw = ctx.measureText(p.den || "").width;
      ctx.fillText(p.num, x + (w - nw) / 2, -6);
      ctx.fillText(p.den || "", x + (w - dw) / 2, 5.5);
      ctx.lineWidth = 0.7;
      ctx.beginPath();
      ctx.moveTo(x + 1.5, -4.2);
      ctx.lineTo(x + w - 1.5, -4.2);
      ctx.stroke();
    } else {
      ctx.fillText(p.t || "", x, p.dy || 0);
    }
    x += widths[i];
  });
  ctx.restore();
}

function drawPower(
  ctx: CanvasRenderingContext2D,
  exp: number,
  x: number,
  y: number,
  align: "right" | "center"
) {
  const base = "10";
  const ex = exp < 0 ? "-" + Math.abs(exp) : String(exp);
  ctx.font = "12px " + SANS;
  const wb = ctx.measureText(base).width;
  ctx.font = "8.5px " + SANS;
  const we = ctx.measureText(ex).width;
  const x0 = align === "right" ? x - wb - we : x - (wb + we) / 2;
  ctx.fillStyle = "#262626";
  ctx.textBaseline = "middle";
  ctx.textAlign = "left";
  ctx.font = "12px " + SANS;
  ctx.fillText(base, x0, y + 2);
  ctx.font = "8.5px " + SANS;
  ctx.fillText(ex, x0 + wb, y - 4.5);
}

function Panel({ idx }: { idx: number }) {
  const ref = useRef<HTMLCanvasElement | null>(null);
  useEffect(() => {
    if (!ref.current) return;
    const row = Math.floor(idx / 3);
    const col = idx % 3;
    const [L, R] = colEdges[col];
    const [T, B] = rowEdges[row];
    const [lo, hi] = yRangeExp[idx];

    const datasets = panelSeries[idx].map((arr, s) => ({
      data: arr.map((v, k) => ({ x: freqHz[k], y: Math.pow(10, v) })),
      borderColor: seriesColors[s],
      borderWidth: seriesWidths[s],
      pointRadius: 0,
      tension: 0,
      fill: false,
      clip: 0,
      order: 6 - s,
      borderJoinStyle: "round" as const,
    }));

    const decor = {
      id: "decor",
      beforeDatasetsDraw(chart: any) {
        const ctx = chart.ctx as CanvasRenderingContext2D;
        const a = chart.chartArea;
        const ys = chart.scales.y;
        ctx.save();
        ctx.strokeStyle = "#e6e6e6";
        ctx.lineWidth = 1;
        yTickExp[idx].forEach((e) => {
          const y = Math.round(ys.getPixelForValue(Math.pow(10, e))) + 0.5;
          ctx.beginPath();
          ctx.moveTo(a.left, y);
          ctx.lineTo(a.right, y);
          ctx.stroke();
        });
        ctx.restore();
      },
      afterDatasetsDraw(chart: any) {
        const ctx = chart.ctx as CanvasRenderingContext2D;
        const a = chart.chartArea;
        const xs = chart.scales.x;
        const ys = chart.scales.y;
        ctx.save();
        ctx.strokeStyle = "#a6a6a6";
        ctx.lineWidth = 1;
        ctx.strokeRect(a.left + 0.5, a.top + 0.5, a.right - a.left - 1, a.bottom - a.top - 1);
        ctx.beginPath();
        for (let e = Math.ceil(lo); e <= Math.floor(hi); e++) {
          const y = Math.round(ys.getPixelForValue(Math.pow(10, e))) + 0.5;
          ctx.moveTo(a.left, y);
          ctx.lineTo(a.left + 3, y);
          ctx.moveTo(a.right, y);
          ctx.lineTo(a.right - 3, y);
        }
        xMinorHz.forEach((f) => {
          const x = Math.round(xs.getPixelForValue(f)) + 0.5;
          ctx.moveTo(x, a.top);
          ctx.lineTo(x, a.top + 3);
          ctx.moveTo(x, a.bottom);
          ctx.lineTo(x, a.bottom - 3);
        });
        ctx.stroke();

        yTickExp[idx].forEach((e) => {
          const y = ys.getPixelForValue(Math.pow(10, e));
          drawPower(ctx, e, a.left - 4, y, "right");
        });

        if (row === 2) {
          xTickExp.forEach((e) => {
            const x = xs.getPixelForValue(Math.pow(10, e));
            drawPower(ctx, e, x, 465, "center");
          });
          drawParts(
            ctx,
            [{ t: "Frequency [Hz]", f: "12px " + SERIF }],
            (a.left + a.right) / 2,
            490,
            false,
            "#262626"
          );
        }
        if (row === 0) {
          drawParts(
            ctx,
            [
              { t: "Input", f: "bold 13.5px " + SERIF },
              { t: " " + inputNames[col], f: "13.5px " + SERIF },
            ],
            (a.left + a.right) / 2,
            19,
            false,
            "#000000"
          );
        }
        if (col === 0) {
          const cy = (a.top + a.bottom) / 2;
          drawParts(
            ctx,
            [
              { t: "Output", f: "bold 13.5px " + SERIF },
              { t: " " + outputNames[row], f: "13.5px " + SERIF },
            ],
            20,
            cy,
            true,
            "#000000"
          );
          drawParts(
            ctx,
            [
              { t: "Magnitude ", f: "12.5px " + SERIF },
              { t: "[", f: "18px " + SERIF, dy: 1.5 },
              { num: "V", den: "W", f: "italic 10px " + SERIF },
              { t: "]", f: "18px " + SERIF, dy: 1.5 },
            ],
            37,
            cy,
            true,
            "#262626"
          );
        }
        ctx.restore();
      },
    };

    const chart = new Chart(ref.current, {
      type: "line",
      data: { datasets: datasets as any },
      options: {
        responsive: false,
        animation: false,
        devicePixelRatio: 1,
        events: [],
        layout: {
          padding: { left: L, top: T, right: CANVAS_W - R, bottom: CANVAS_H - B },
        },
        plugins: {
          legend: { display: false },
          tooltip: { enabled: false },
          title: { display: false },
        },
        scales: {
          x: { type: "logarithmic", min: 10, max: 100, display: false },
          y: { type: "logarithmic", min: Math.pow(10, lo), max: Math.pow(10, hi), display: false },
        },
      },
      plugins: [decor],
    });
    return () => chart.destroy();
  }, [idx]);
  return (
    <canvas
      ref={ref}
      width={CANVAS_W}
      height={CANVAS_H}
      style={{ position: "absolute", left: 0, top: 0, width: CANVAS_W, height: CANVAS_H }}
    />
  );
}

export default function App() {
  return (
    <div
      style={{
        position: "fixed",
        left: 0,
        top: 0,
        width: CANVAS_W,
        height: CANVAS_H,
        background: "#ffffff",
        overflow: "hidden",
      }}
    >
      {[0, 1, 2, 3, 4, 5, 6, 7, 8].map((i) => (
        <Panel key={i} idx={i} />
      ))}
    </div>
  );
}
